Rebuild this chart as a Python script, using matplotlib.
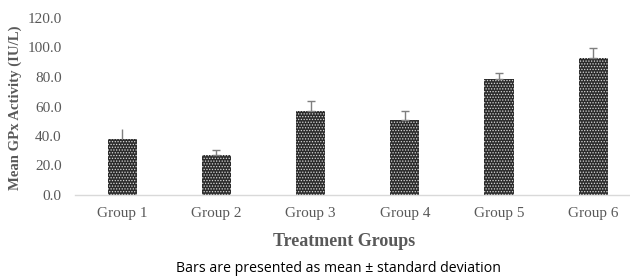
import numpy as np
import matplotlib
import matplotlib.pyplot as plt

matplotlib.rcParams['hatch.linewidth'] = 0.6

groups = ['Group 1', 'Group 2', 'Group 3', 'Group 4', 'Group 5', 'Group 6']
mean_gpx = [38.0, 27.0, 57.0, 51.0, 78.5, 93.0]
sd_gpx = [6.5, 3.5, 6.5, 6.0, 4.0, 6.5]
y_ticks = [0, 20, 40, 60, 80, 100, 120]

fig = plt.figure(figsize=(6.3, 2.79), dpi=100)
ax = fig.add_axes([75 / 630, 1 - 195 / 279, 1 - 75 / 630, (195 - 18) / 279])

x = np.arange(len(groups))
ax.bar(x, mean_gpx, width=0.31, color='#2b2b2b', edgecolor='#d8d8d8',
       hatch='......', linewidth=0, zorder=2)
# the first group's error bar has no cap in the original
for i in range(len(groups)):
    cap = 0 if i == 0 else 3
    ax.errorbar(x[i], mean_gpx[i], yerr=[[0], [sd_gpx[i]]], fmt='none',
                ecolor='#7f7f7f', elinewidth=1, capsize=cap, capthick=1, zorder=3)

ax.set_xlim(-0.5, 5.39)
ax.set_ylim(0, 120)
ax.set_yticks(y_ticks)
ax.set_yticklabels([f'{v:.1f}' for v in y_ticks])
ax.set_xticks(x)
ax.set_xticklabels(groups)

serif = ['Liberation Serif', 'DejaVu Serif']
for lbl in ax.get_xticklabels() + ax.get_yticklabels():
    lbl.set_family(serif)
    lbl.set_fontsize(11)
    lbl.set_color('#595959')
ax.tick_params(axis='both', length=0)
ax.tick_params(axis='x', pad=9)
ax.tick_params(axis='y', pad=9.5)

for side in ['top', 'right', 'left']:
    ax.spines[side].set_visible(False)
ax.spines['bottom'].set_color('#d9d9d9')
ax.spines['bottom'].set_linewidth(1)

fig.text(15 / 630, 1 - 108 / 279, 'Mean GPx Activity (IU/L)', family=serif,
         fontsize=10.6, fontweight='bold', color='#595959',
         rotation=90, ha='center', va='center')
fig.text(344 / 630, 1 - 241 / 279, 'Treatment Groups', family=serif,
         fontsize=13, fontweight='bold', color='#595959',
         ha='center', va='center')
fig.text(338 / 630, 1 - 268 / 279, 'Bars are presented as mean \u00b1 standard deviation',
         family=['Open Sans', 'DejaVu Sans'], fontsize=10.2, color='black',
         ha='center', va='center')

plt.savefig('out.png', dpi=100)
plt.close()
